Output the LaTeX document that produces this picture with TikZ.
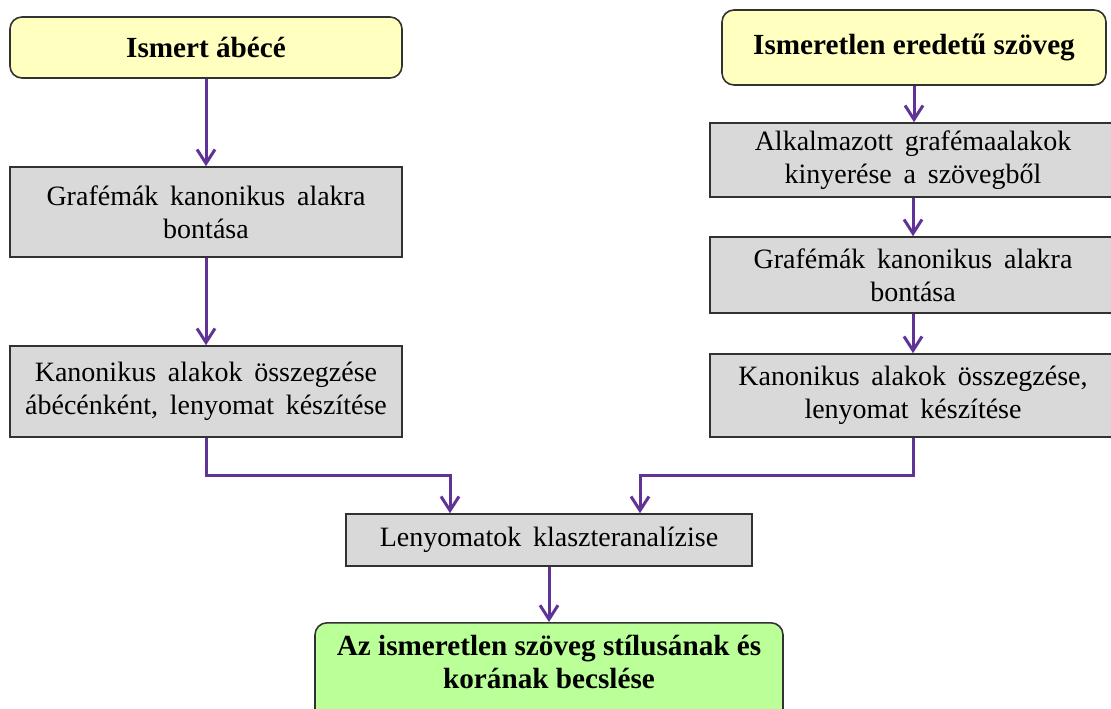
\documentclass[tikz,border=0pt]{standalone}
\usepackage{fontspec}
\setmainfont{Liberation Serif}
\usetikzlibrary{arrows.meta}
\definecolor{flowpurple}{RGB}{96,52,150}
\definecolor{boxgray}{RGB}{217,217,217}
\definecolor{titleyellow}{RGB}{255,255,192}
\definecolor{resultgreen}{RGB}{187,255,153}
\definecolor{edgegray}{RGB}{50,50,50}
\newcommand\stepfont{\fontsize{14}{16.5}\selectfont\spaceskip 0.42em plus 0.1em\relax}
\newcommand\titlefont{\fontsize{14.6}{16.5}\selectfont\bfseries\spaceskip 0.25em\relax}
\tikzset{
	stepbox/.style={draw=edgegray,line width=0.8pt,fill=boxgray,align=center,inner sep=0pt,
		font=\stepfont},
	titlebox/.style={stepbox,rounded corners=6pt,fill=titleyellow,font=\titlefont},
	resultbox/.style={titlebox,fill=resultgreen},
	flow/.style={draw=flowpurple,line width=1.5pt,-{Straight Barb[length=7pt,width=9pt,line width=1.5pt]}}
}
\begin{document}
\begin{tikzpicture}[x=0.5pt,y=-0.5pt]
	\useasboundingbox (0,0) rectangle (1111,708);
	% left column
	\node[titlebox,minimum width=196pt,minimum height=30.5pt] (abc) at (206,47.5) {Ismert ábécé};
	\node[stepbox,minimum width=196pt,minimum height=45pt] (bontL) at (206,212) {Grafémák kanonikus alakra\\bontása};
	\node[stepbox,minimum width=196pt,minimum height=45.5pt] (osszL) at (206,391.5) {Kanonikus alakok összegzése\\ábécénként, lenyomat készítése};
	% right column
	\node[titlebox,minimum width=192pt,minimum height=37.5pt] (szoveg) at (914,47.5) {Ismeretlen eredetű szöveg};
	\node[stepbox,minimum width=203pt,minimum height=37pt] (kinyR) at (913,160) {Alkalmazott grafémaalakok\\kinyerése a szövegből};
	\node[stepbox,minimum width=203pt,minimum height=38pt] (bontR) at (913,275) {Grafémák kanonikus alakra\\bontása};
	\node[stepbox,minimum width=203pt,minimum height=41.5pt] (osszR) at (913,395.5) {Kanonikus alakok összegzése,\\lenyomat készítése};
	% bottom
	\node[stepbox,minimum width=203pt,minimum height=26pt] (lenyomat) at (549,540) {Lenyomatok klaszteranalízise};
	\node[resultbox,minimum width=234pt,anchor=north,inner ysep=6pt] (becsl) at (549,622)
		{Az ismeretlen szöveg stílusának és\\korának becslése\rule[-24pt]{0pt}{0pt}};
	\coordinate (mL) at (450,475);
	\coordinate (mR) at (640,475);
	\draw[flow] (abc) -- (bontL);
	\draw[flow] (bontL) -- (osszL);
	\draw[flow] (szoveg.south) -- (szoveg.south |- kinyR.north);
	\draw[flow] (kinyR) -- (bontR);
	\draw[flow] (bontR) -- (osszR);
	\draw[flow] (osszL.south) |- (mL) -- (mL |- lenyomat.north);
	\draw[flow] (osszR.south) |- (mR) -- (mR |- lenyomat.north);
	\draw[flow] (lenyomat) -- (becsl);
\end{tikzpicture}
\end{document}
